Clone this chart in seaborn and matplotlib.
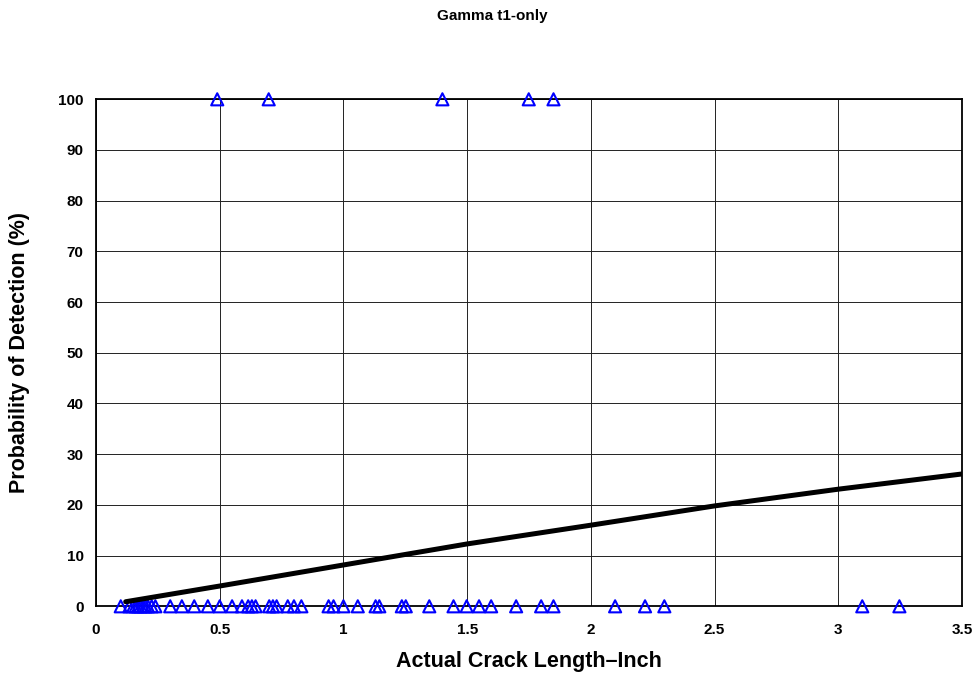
import numpy as np
import pandas as pd
import matplotlib
matplotlib.use("Agg")
import matplotlib.pyplot as plt
from matplotlib.ticker import MultipleLocator
import seaborn as sns

# Crack lengths (inch) of missed cracks (0 %) and detected cracks (100 %)
miss_lengths = [0.10, 0.135, 0.15, 0.16, 0.17, 0.18, 0.19, 0.20, 0.21, 0.225, 0.24,
                0.30, 0.347, 0.397, 0.452, 0.50, 0.55, 0.59, 0.615, 0.63, 0.645,
                0.70, 0.715, 0.73, 0.775, 0.80, 0.83, 0.94, 0.96, 1.00, 1.058,
                1.13, 1.145, 1.236, 1.252, 1.347, 1.445, 1.498, 1.548, 1.597,
                1.698, 1.799, 1.849, 2.098, 2.219, 2.297, 3.097, 3.247]
hit_lengths = [0.49, 0.698, 1.40, 1.749, 1.849]

# Fitted POD curve
fit_length = [0.12, 0.5, 1.0, 1.5, 2.0, 2.5, 3.0, 3.5]
fit_pod = [0.9, 4.0, 8.15, 12.3, 16.0, 19.8, 23.1, 26.1]

title_text = "Gamma t1-only"
x_label = "Actual Crack Length\u2013Inch"
y_label = "Probability of Detection (%)"

hits = pd.DataFrame({"length": miss_lengths + hit_lengths,
                     "pod": [0] * len(miss_lengths) + [100] * len(hit_lengths)})
fit = pd.DataFrame({"length": fit_length, "pod": fit_pod})

sns.set_style("white")
plt.rcParams["font.family"] = ["Liberation Sans", "DejaVu Sans"]
plt.rcParams["font.weight"] = "bold"
plt.rcParams["text.color"] = "black"
plt.rcParams["axes.labelcolor"] = "black"
plt.rcParams["xtick.color"] = "black"
plt.rcParams["ytick.color"] = "black"

fig = plt.figure(figsize=(9.76, 6.75), dpi=100)
ax = fig.add_axes([96 / 976, 1 - 606.3 / 675, 866 / 976, 507 / 675])

sns.lineplot(data=fit, x="length", y="pod", ax=ax, color="black", lw=3.6,
             zorder=4)
sns.scatterplot(data=hits, x="length", y="pod", ax=ax, marker="^", s=76,
                facecolors="none", edgecolors="#0000ff", linewidths=1.5,
                clip_on=False, zorder=3)

ax.set_xlim(0, 3.5)
ax.set_ylim(0, 100)
ax.xaxis.set_major_locator(MultipleLocator(0.5))
ax.xaxis.set_minor_locator(MultipleLocator(0.25))
ax.yaxis.set_major_locator(MultipleLocator(10))
ax.yaxis.set_minor_locator(MultipleLocator(5))
ax.set_xticks(np.arange(0, 3.51, 0.5))
ax.set_xticklabels(["0", "0.5", "1", "1.5", "2", "2.5", "3", "3.5"])

ax.grid(True, which="major", color="#222222", lw=0.7)
ax.tick_params(which="major", direction="in", length=0, labelsize=11, pad=12,
               labelcolor="black")
ax.tick_params(axis="y", which="major", pad=9)
ax.tick_params(which="minor", direction="in", length=4, width=0.8,
               color="black")
for lab in ax.get_xticklabels() + ax.get_yticklabels():
    lab.set_fontweight("bold")

for sp in ax.spines.values():
    sp.set_color("black")
    sp.set_linewidth(1.3)

ax.set_xlabel(x_label, fontsize=15.5, fontweight="bold", color="black")
ax.set_ylabel(y_label, fontsize=15.5, fontweight="bold", color="black")
ax.xaxis.set_label_coords(529 / 866 - 96 / 866, -(662 - 606.3) / 507)
ax.yaxis.set_label_coords(-(96 - 20) / 866, 0.5)
ax.xaxis.label.set_va("center")
ax.yaxis.label.set_va("center")

fig.text(492 / 976, 1 - 16 / 675, title_text, ha="center", va="center",
         fontsize=11, fontweight="bold", color="black")

fig.savefig("out.png", dpi=100)
